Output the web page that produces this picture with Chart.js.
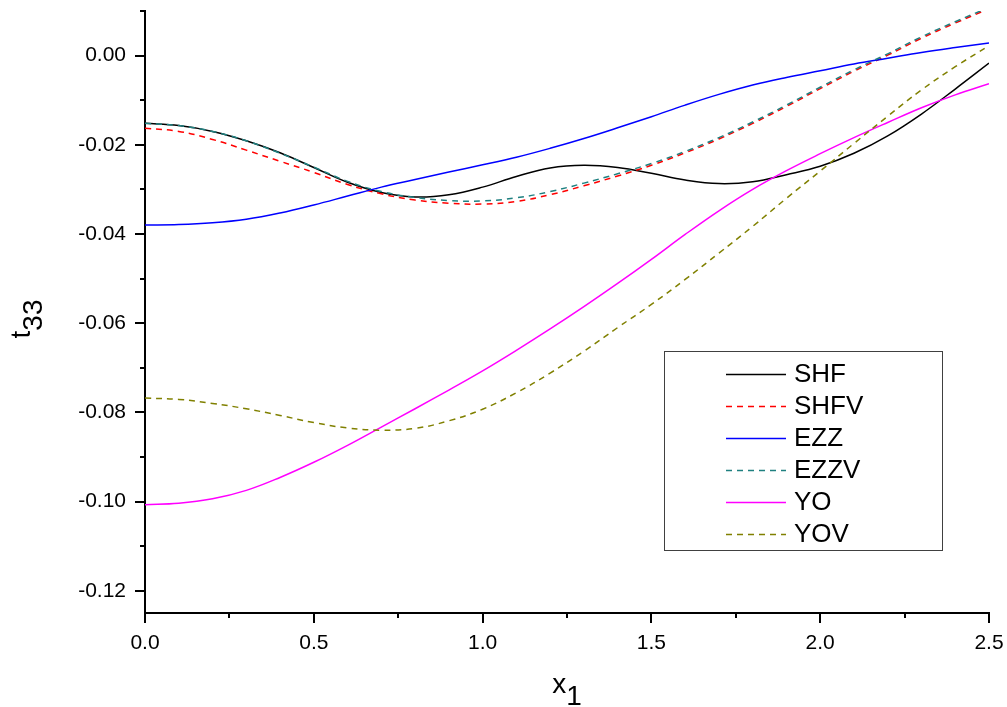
<!DOCTYPE html>
<html>
<head>
<meta charset="utf-8">
<script src="https://cdn.jsdelivr.net/npm/chart.js@4"></script>
<style>
  html, body { margin: 0; padding: 0; background: #fff; }
  #chart { display: block; }
</style>
</head>
<body>
<canvas id="chart" width="1007" height="707"></canvas>
<script>
const FONT = "'Liberation Sans', Arial, sans-serif";

// x1 sample positions shared by every curve
const xValues = [0.0, 0.1, 0.2, 0.3, 0.4, 0.5, 0.6, 0.7, 0.8, 0.9, 1.0, 1.1, 1.2,
  1.3, 1.4, 1.5, 1.6, 1.7, 1.8, 1.9, 2.0, 2.1, 2.2, 2.3, 2.4, 2.5];

const shf = [-0.0152, -0.0157, -0.0170, -0.0191, -0.0218, -0.0251, -0.0284, -0.0307,
  -0.0317, -0.0312, -0.0295, -0.0271, -0.0252, -0.0246, -0.0251, -0.0264, -0.0279,
  -0.0287, -0.0283, -0.0267, -0.0248, -0.0219, -0.0180, -0.0131, -0.0075, -0.0017];
const shfv = [-0.0163, -0.0170, -0.0188, -0.0212, -0.0237, -0.0262, -0.0289, -0.0310,
  -0.0324, -0.0331, -0.0333, -0.0327, -0.0312, -0.0292, -0.0270, -0.0246, -0.0218,
  -0.0187, -0.0152, -0.0114, -0.0074, -0.0035, 0.0001, 0.0039, 0.0073, 0.0105];
const ezz = [-0.0380, -0.0379, -0.0375, -0.0367, -0.0353, -0.0335, -0.0315, -0.0295,
  -0.0278, -0.0261, -0.0245, -0.0228, -0.0208, -0.0186, -0.0162, -0.0137, -0.0111,
  -0.0087, -0.0066, -0.0049, -0.0034, -0.0019, -0.0006, 0.0007, 0.0018, 0.0028];
const ezzv = [-0.0152, -0.0157, -0.0170, -0.0191, -0.0219, -0.0250, -0.0282, -0.0305,
  -0.0318, -0.0325, -0.0326, -0.0319, -0.0305, -0.0286, -0.0265, -0.0242, -0.0215,
  -0.0184, -0.0149, -0.0111, -0.0071, -0.0032, 0.0004, 0.0042, 0.0076, 0.0108];
const yo = [-0.1007, -0.1004, -0.0994, -0.0975, -0.0946, -0.0912, -0.0874, -0.0833,
  -0.0792, -0.0750, -0.0707, -0.0661, -0.0613, -0.0563, -0.0511, -0.0457, -0.0401,
  -0.0348, -0.0300, -0.0258, -0.0220, -0.0184, -0.0150, -0.0117, -0.0088, -0.0063];
const yov = [-0.0768, -0.0771, -0.0780, -0.0792, -0.0807, -0.0823, -0.0835, -0.0840,
  -0.0836, -0.0819, -0.0793, -0.0756, -0.0712, -0.0663, -0.0610, -0.0558, -0.0502,
  -0.0443, -0.0383, -0.0320, -0.0259, -0.0197, -0.0136, -0.0077, -0.0025, 0.0022];

const xTicks = [0, 0.5, 1.0, 1.5, 2.0, 2.5];
const yTicks = [-0.12, -0.10, -0.08, -0.06, -0.04, -0.02, 0.00];

function series(label, values, color, dashed) {
  return {
    label,
    data: values.map((y, i) => ({ x: xValues[i], y })),
    borderColor: color,
    backgroundColor: color,
    borderWidth: 1.5,
    borderDash: dashed ? [6, 5] : [],
    pointRadius: 0,
    fill: false,
    tension: 0.4,
  };
}

const datasets = [
  series("SHF", shf, "#000000", false),
  series("SHFV", shfv, "#ff0000", true),
  series("EZZ", ezz, "#0000ff", false),
  series("EZZV", ezzv, "#1f8080", true),
  series("YO", yo, "#ff00ff", false),
  series("YOV", yov, "#808000", true),
];
// later curves sit on top of earlier ones
datasets.forEach((d, i) => { d.order = datasets.length - i; });

// outward major/minor tick marks on both axes
const tickMarks = {
  id: "tickMarks",
  afterDraw(chart) {
    const { ctx, scales: { x, y } } = chart;
    const ax = x.top, ay = y.right;
    ctx.save();
    ctx.strokeStyle = "#000";
    ctx.lineWidth = 2;
    ctx.beginPath();
    const ystep = yTicks[1] - yTicks[0];
    yTicks.forEach((v) => {
      const p = Math.round(y.getPixelForValue(v));
      ctx.moveTo(ay - 10, p); ctx.lineTo(ay, p);
      [v - ystep / 2, v + ystep / 2].forEach((m) => {
        if (m >= y.min - 1e-9 && m <= y.max + 1e-9) {
          const q = Math.round(y.getPixelForValue(m));
          ctx.moveTo(ay - 5, q); ctx.lineTo(ay, q);
        }
      });
    });
    const xstep = xTicks[1] - xTicks[0];
    xTicks.forEach((v, i) => {
      const p = Math.round(x.getPixelForValue(v));
      ctx.moveTo(p, ax); ctx.lineTo(p, ax + 10);
      if (i < xTicks.length - 1) {
        const q = Math.round(x.getPixelForValue(v + xstep / 2));
        ctx.moveTo(q, ax); ctx.lineTo(q, ax + 5);
      }
    });
    ctx.stroke();
    ctx.restore();
  },
};

// axis titles with subscripts
const axisTitles = {
  id: "axisTitles",
  afterDraw(chart) {
    const { ctx, chartArea } = chart;
    ctx.save();
    ctx.fillStyle = "#000";
    ctx.font = "28px " + FONT;
    ctx.textBaseline = "alphabetic";
    ctx.textAlign = "left";

    const wx = ctx.measureText("x").width, w1 = ctx.measureText("1").width;
    const cx = (chartArea.left + chartArea.right) / 2;
    const sx = cx - (wx + w1) / 2;
    ctx.fillText("x", sx, 693);
    ctx.fillText("1", sx + wx, 705);

    ctx.translate(30, 319);
    ctx.rotate(-Math.PI / 2);
    const wt = ctx.measureText("t").width, w33 = ctx.measureText("33").width;
    const st = -(wt + w33) / 2;
    ctx.fillText("t", st, 0);
    ctx.fillText("33", st + wt, 12);
    ctx.restore();
  },
};

// boxed legend inside the plot
const boxLegend = {
  id: "boxLegend",
  afterDraw(chart) {
    const { ctx } = chart;
    const left = 664, top = 351, right = 942, bottom = 550;
    ctx.save();
    ctx.fillStyle = "#fff";
    ctx.fillRect(left, top, right - left, bottom - top);
    ctx.strokeStyle = "#404040";
    ctx.lineWidth = 1;
    ctx.strokeRect(left + 0.5, top + 0.5, right - left, bottom - top);
    ctx.font = "26px " + FONT;
    ctx.textBaseline = "middle";
    ctx.textAlign = "left";
    chart.data.datasets.forEach((d, i) => {
      const yy = 374 + i * 32;
      ctx.strokeStyle = d.borderColor;
      ctx.lineWidth = d.borderWidth;
      ctx.setLineDash(d.borderDash);
      ctx.beginPath();
      ctx.moveTo(726, yy + 0.5);
      ctx.lineTo(786, yy + 0.5);
      ctx.stroke();
      ctx.setLineDash([]);
      ctx.fillStyle = "#000";
      ctx.fillText(d.label, 794, yy + 1);
    });
    ctx.restore();
  },
};

const tickFont = { family: FONT, size: 21 };

new Chart(document.getElementById("chart").getContext("2d"), {
  type: "line",
  data: { datasets },
  plugins: [tickMarks, axisTitles, boxLegend],
  options: {
    responsive: false,
    animation: false,
    devicePixelRatio: 1,
    layout: { padding: { top: 11, right: 18, left: 0, bottom: 0 } },
    scales: {
      x: {
        type: "linear",
        min: 0,
        max: 2.5,
        afterBuildTicks: (s) => { s.ticks = xTicks.map((v) => ({ value: v })); },
        afterFit: (s) => { s.height = 94; s.paddingLeft = 0; s.paddingRight = 0; },
        border: { display: true, color: "#000", width: 2 },
        grid: { drawOnChartArea: false, drawTicks: false },
        ticks: {
          padding: 18,
          color: "#000",
          font: tickFont,
          maxRotation: 0,
          callback: (v) => v.toFixed(1),
        },
      },
      y: {
        type: "linear",
        min: -0.125,
        max: 0.01,
        afterBuildTicks: (s) => { s.ticks = yTicks.map((v) => ({ value: v })); },
        afterFit: (s) => { s.width = 145; s.paddingTop = 0; s.paddingBottom = 0; },
        border: { display: true, color: "#000", width: 2 },
        grid: { drawOnChartArea: false, drawTicks: false },
        ticks: {
          padding: 19,
          color: "#000",
          font: tickFont,
          callback: (v) => v.toFixed(2),
        },
      },
    },
    plugins: {
      legend: { display: false },
      tooltip: { enabled: false },
    },
  },
});
</script>
</body>
</html>
